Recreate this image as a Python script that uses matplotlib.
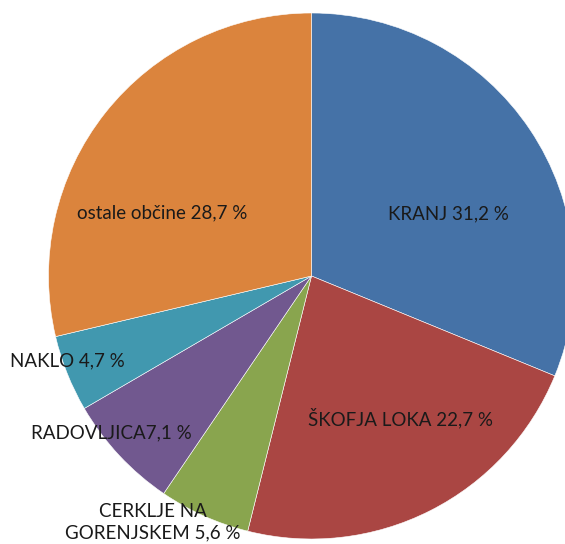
import matplotlib.pyplot as plt

names = ["KRANJ", "ŠKOFJA LOKA", "CERKLJE NA\nGORENJSKEM", "RADOVLJICA", "NAKLO", "ostale občine"]
shares = [31.2, 22.7, 5.6, 7.1, 4.7, 28.7]
label_text = ["KRANJ 31,2 %", "ŠKOFJA LOKA 22,7 %", "CERKLJE NA\nGORENJSKEM 5,6 %",
              "RADOVLJICA7,1 %", "NAKLO 4,7 %", "ostale občine 28,7 %"]
colors = ["#4572A7", "#AA4643", "#89A54E", "#71588F", "#4198AF", "#DB843D"]

# label centres in pixel coords (x, y from top)
label_pos = [(448, 214), (401, 418), (153, 522), (111, 433), (67, 361), (162, 213)]

W, H = 565, 544
fig = plt.figure(figsize=(W / 100, H / 100), dpi=100)
ax = fig.add_axes([0, 0, 1, 1])

ax.pie(shares, colors=colors, startangle=90, counterclock=False,
       center=(311.5, H - 276), radius=263, frame=True,
       wedgeprops=dict(edgecolor="white", linewidth=0.4))
ax.set_xlim(0, W)
ax.set_ylim(0, H)
ax.set_aspect("equal")
ax.axis("off")

for txt, (x, y) in zip(label_text, label_pos):
    ax.text(x, H - y, txt, ha="center", va="center", fontsize=13.5,
            family="Lato", color="#1a1a1a", linespacing=1.3)

fig.savefig("out.png", dpi=100)
